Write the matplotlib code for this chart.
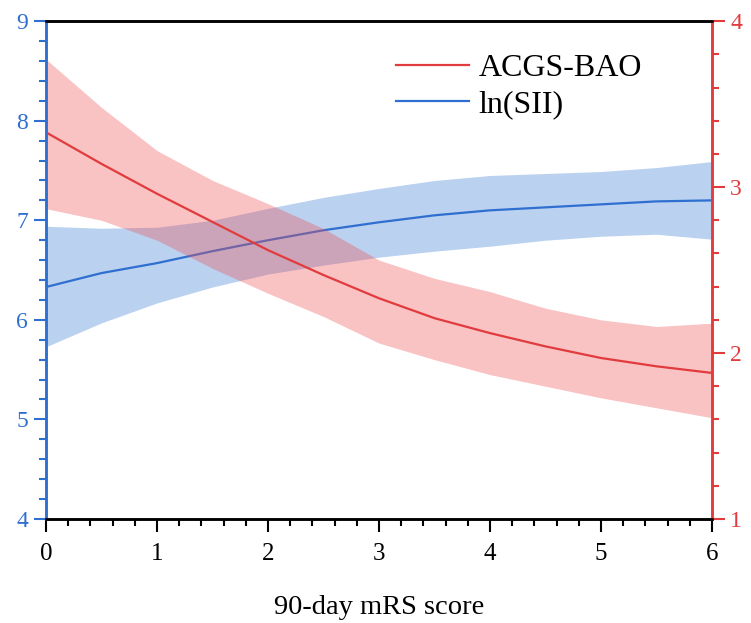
import numpy as np
import matplotlib
matplotlib.use("Agg")
import matplotlib.pyplot as plt
from matplotlib.ticker import MultipleLocator

plt.rcParams['font.family'] = ['Liberation Serif', 'DejaVu Serif']

# Valores
mrs = [0, 0.5, 1, 1.5, 2, 2.5, 3, 3.5, 4, 4.5, 5, 5.5, 6]

sii = [6.33, 6.47, 6.57, 6.69, 6.80, 6.90, 6.98, 7.05, 7.10, 7.13, 7.16, 7.19, 7.20]
sii_lo = [5.73, 5.97, 6.17, 6.33, 6.46, 6.55, 6.63, 6.69, 6.74, 6.80, 6.84, 6.86, 6.81]
sii_hi = [6.94, 6.92, 6.93, 7.00, 7.12, 7.23, 7.32, 7.40, 7.45, 7.47, 7.49, 7.53, 7.59]

bao = [3.33, 3.14, 2.96, 2.79, 2.62, 2.47, 2.33, 2.21, 2.12, 2.04, 1.97, 1.92, 1.88]
bao_lo = [2.87, 2.80, 2.68, 2.51, 2.36, 2.22, 2.06, 1.96, 1.87, 1.80, 1.73, 1.67, 1.61]
bao_hi = [3.77, 3.48, 3.22, 3.04, 2.90, 2.75, 2.56, 2.45, 2.37, 2.27, 2.20, 2.16, 2.18]

azul = '#2f6fd0'
vermelho = '#e23b3e'

fig = plt.figure(figsize=(7.51, 6.23), dpi=100)
ax = fig.add_axes([0.0613, 0.167, 0.8868, 0.799])
ax2 = ax.twinx()

# Curva azul (eixo esquerdo)
ax.fill_between(mrs, sii_lo, sii_hi, color='#4a86d8', alpha=0.38, lw=0)
l_sii, = ax.plot(mrs, sii, color=azul, lw=1.6, label='ln(SII)')

# Curva vermelha (eixo direito)
ax2.fill_between(mrs, bao_lo, bao_hi, color='#ef5055', alpha=0.35, lw=0)
l_bao, = ax2.plot(mrs, bao, color=vermelho, lw=1.6, label='ACGS-BAO')

ax.set_xlim(0, 6)
ax.set_ylim(4, 9)
ax2.set_ylim(1, 4)

ax.xaxis.set_major_locator(MultipleLocator(1))
ax.xaxis.set_minor_locator(MultipleLocator(0.2))
ax.yaxis.set_major_locator(MultipleLocator(1))
ax.yaxis.set_minor_locator(MultipleLocator(0.2))
ax2.yaxis.set_major_locator(MultipleLocator(1))
ax2.yaxis.set_minor_locator(MultipleLocator(0.2))

ax.tick_params(axis='x', which='major', direction='out', length=9, width=1.5, labelsize=18, colors='black', pad=8)
ax.tick_params(axis='x', which='minor', direction='out', length=5, width=1.5)
ax.tick_params(axis='y', which='major', direction='out', length=9, width=1.5, labelsize=17, colors=azul, pad=4)
ax.tick_params(axis='y', which='minor', direction='out', length=5, width=1.5, colors=azul)
ax2.tick_params(axis='y', which='major', direction='out', length=9, width=1.5, labelsize=17, colors=vermelho, pad=4)
ax2.tick_params(axis='y', which='minor', direction='out', length=5, width=1.5, colors=vermelho)

for a in (ax, ax2):
    a.spines['top'].set_color('black')
    a.spines['top'].set_linewidth(1.8)
    a.spines['bottom'].set_color('black')
    a.spines['bottom'].set_linewidth(1.8)
    a.spines['left'].set_color(azul)
    a.spines['left'].set_linewidth(1.8)
    a.spines['right'].set_color(vermelho)
    a.spines['right'].set_linewidth(1.8)

ax.set_xlabel('90-day mRS score', fontsize=20.5, labelpad=22)

ax2.legend(handles=[l_bao, l_sii], loc='upper left', bbox_to_anchor=(0.482, 0.992),
           frameon=False, fontsize=23, handlelength=2.3, labelspacing=0.2, handletextpad=0.3)

fig.savefig('out.png', dpi=100)
